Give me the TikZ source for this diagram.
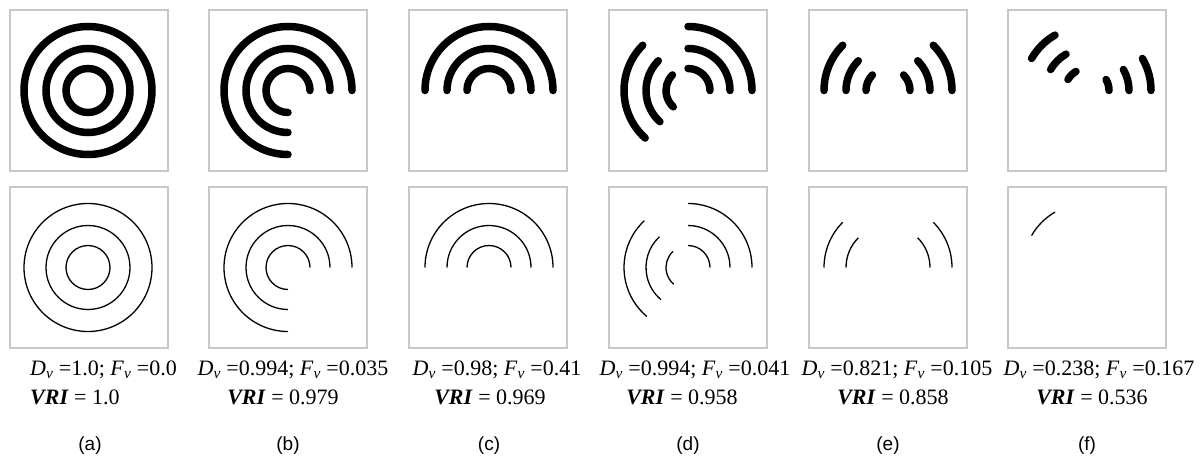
\documentclass[tikz,border=0pt]{standalone}
\usepackage{fontspec}
\setmainfont{Liberation Serif}
\newfontfamily\labelsans{Liberation Sans}
\definecolor{boxgray}{RGB}{200,200,200}
\newcommand{\arcseg}[6]{\draw[#1] (#2,#3) ++(#5:#4) arc[start angle=#5,end angle=#6,radius=#4];}
\newcommand{\Dv}{\textit{D}\textsubscript{\textit{v}}}
\newcommand{\Fv}{\textit{F}\textsubscript{\textit{v}}}
\newcommand{\VRI}{\textbf{\textit{VRI}}}
\tikzset{
  panelbox/.style={draw=boxgray, line width=1.6pt},
  thickarc/.style={line width=7.5pt, line cap=round},
  thinarc/.style={line width=1.3pt},
  metric/.style={font=\fontsize{22}{25}\selectfont, inner sep=0pt, anchor=base},
  caption/.style={font=\labelsans\fontsize{19}{21}\selectfont, inner sep=0pt, anchor=center}
}
\begin{document}
\begin{tikzpicture}[x=1pt,y=1pt]
\useasboundingbox (0,0) rectangle (1201,-463);
\fill[white] (0,0) rectangle (1201,-463);

% panel boxes
\foreach \L in {10,209,409,609,809,1008}{
  \draw[panelbox] (\L,-10) rectangle ++(158,-161);
  \draw[panelbox] (\L,-187) rectangle ++(158,-161);
}

% ---------- top row (thick) ----------
% (a)
\foreach \r in {64,42,22}{\draw[line width=7.5pt] (88,-90.5) circle[radius=\r];}
% (b)
\foreach \r in {64,42,22}{\arcseg{thickarc}{288}{-90.5}{\r}{0}{270}}
% (c)
\foreach \r in {64,42,22}{\arcseg{thickarc}{489}{-90.5}{\r}{0}{180}}
% (d)
\foreach \r in {64,42,22}{\arcseg{thickarc}{688}{-90.5}{\r}{0}{90}\arcseg{thickarc}{688}{-90.5}{\r}{135}{228}}
% (e)
\foreach \r in {64,42,22}{\arcseg{thickarc}{888}{-90.5}{\r}{0}{45}\arcseg{thickarc}{888}{-90.5}{\r}{135}{180}}
% (f)
\foreach \r in {64,42,22}{\arcseg{thickarc}{1087}{-90.5}{\r}{0}{30}\arcseg{thickarc}{1087}{-90.5}{\r}{120}{150}}

% ---------- bottom row (thin) ----------
% (a)
\foreach \r in {64,42,22}{\draw[thinarc] (88,-267.5) circle[radius=\r];}
% (b)
\foreach \r in {64,42,22}{\arcseg{thinarc}{288}{-267.5}{\r}{0}{270}}
% (c)
\foreach \r in {64,42,22}{\arcseg{thinarc}{489}{-267.5}{\r}{0}{180}}
% (d)
\foreach \r in {64,42,22}{\arcseg{thinarc}{688}{-267.5}{\r}{0}{90}\arcseg{thinarc}{688}{-267.5}{\r}{133}{230}}
% (e)
\foreach \r in {64,42}{\arcseg{thinarc}{888}{-267.5}{\r}{0}{45}\arcseg{thinarc}{888}{-267.5}{\r}{135}{180}}
% (f)
\arcseg{thinarc}{1087}{-267.5}{64}{120}{150}

% ---------- metrics ----------
\node[metric, anchor=base west] (ma) at (30,-375) {\Dv\ =1.0; \Fv\ =0.0};
\node[metric, anchor=base west] (va) at (30,-404) {\VRI\ = 1.0};
\node[metric] (mb) at (293,-375) {\Dv\ =0.994; \Fv\ =0.035};
\node[metric] (vb) at (283,-404) {\VRI\ = 0.979};
\node[metric] (mc) at (497,-375) {\Dv\ =0.98; \Fv\ =0.41};
\node[metric] (vc) at (490,-404) {\VRI\ = 0.969};
\node[metric] (md) at (695,-375) {\Dv\ =0.994; \Fv\ =0.041};
\node[metric] (vd) at (682,-404) {\VRI\ = 0.958};
\node[metric] (me) at (897,-375) {\Dv\ =0.821; \Fv\ =0.105};
\node[metric] (ve) at (893,-404) {\VRI\ = 0.858};
\node[metric] (mf) at (1099,-375) {\Dv\ =0.238; \Fv\ =0.167};
\node[metric] (vf) at (1092,-404) {\VRI\ = 0.536};

% ---------- captions ----------
\node[caption] (ca) at (90,-446) {(a)};
\node[caption] (cb) at (288,-446) {(b)};
\node[caption] (cc) at (489,-446) {(c)};
\node[caption] (cd) at (688,-446) {(d)};
\node[caption] (ce) at (888,-446) {(e)};
\node[caption] (cf) at (1087,-446) {(f)};
\end{tikzpicture}
\end{document}
